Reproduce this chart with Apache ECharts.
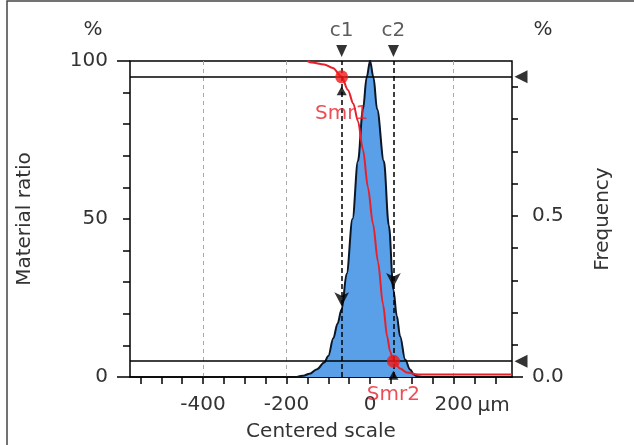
<!DOCTYPE html>
<html>
<head>
<meta charset="utf-8">
<script src="https://cdn.jsdelivr.net/npm/echarts@6/dist/echarts.min.js"></script>
<style>html,body{margin:0;padding:0;background:#fff}#c{width:634px;height:445px}</style>
</head>
<body>
<div id="c"></div>
<script>
// ---- data ----
const xMin = -575, xMax = 340;
const xTickValues = [-550,-500,-450,-400,-350,-300,-250,-200,-150,-100,-50,0,50,100,150,200,250,300];
const xLabelValues = [-400,-200,0,200];
const gridValues = [-400,-200,0,200];
const ratioTickValues = [0,10,20,30,40,50,60,70,80,90,100];
const ratioLabelValues = [0,50,100];
const freqTickValues = [0.1,0.2,0.3,0.4,0.5,0.6,0.7,0.8,0.9];
const freqLabelValues = [0,0.5];
const freqMax = 0.98;

// frequency distribution (centered scale in µm, frequency)
const freqX = [-175,-160,-145,-127,-110,-100,-88,-78,-68,-56,-42,-29,-17,-8,0,8,17,33,45,56,64,72,84,96,105,113,125];
const freqY = [0,0.004,0.010,0.024,0.045,0.065,0.12,0.165,0.21,0.32,0.49,0.67,0.83,0.93,0.98,0.93,0.83,0.67,0.47,0.27,0.19,0.126,0.054,0.023,0.008,0.002,0];

// material ratio curve (µm, %)
const ratioX = [-150,-140,-110,-89,-68,-53,-40,-29,-17,-5,7,19,31,41,48,56,72,88,115,340];
const ratioY = [100,99.5,98.9,97.8,95,90.8,86.5,81,72,60,48.5,36.5,23,12.8,8.1,5,2.7,1.4,0.8,0.8];

const cutNames = ['c1','c2'];
const cutValues = [-68, 56];
const cutFreq = [0.21, 0.27];
const smrNames = ['Smr1','Smr2'];
const smrValues = [95, 5];

// ---- chart ----
const FONT = 'DejaVu Sans';
const TXT = '#333';
const FS = 20;
const RED = '#e8202a';
const chart = echarts.init(document.getElementById('c'), null, {renderer:'canvas'});
const black = {color:'#000', width:1.5};
const txt = {color:TXT, fontSize:FS, fontFamily:FONT};
const helperY = (min, max, pos, ticks, len) => ({
  type:'value', min:min, max:max, position:pos,
  axisLine:{show:false}, axisTick:{show:true, length:len, customValues:ticks, lineStyle:black},
  axisLabel:{show:false}, splitLine:{show:false}
});

const option = {
  animation: false,
  textStyle: {fontFamily: FONT},
  grid: {left:130, right:122, top:61, bottom:68, outerBoundsMode:'none', containLabel:false,
         show:true, borderColor:'#000', borderWidth:1.5, backgroundColor:'transparent'},
  xAxis: [
    {type:'value', min:xMin, max:xMax, position:'bottom',
     axisLine:{show:true, onZero:false, lineStyle:black},
     axisTick:{show:true, length:7, customValues:xTickValues, lineStyle:black},
     axisLabel:Object.assign({customValues:xLabelValues, margin:18}, txt),
     splitLine:{show:false},
     name:'Centered scale', nameLocation:'middle', nameGap:45, nameTextStyle:txt},
    {type:'value', min:xMin, max:xMax, position:'bottom',
     axisLine:{show:false}, axisTick:{show:false, customValues:gridValues}, axisLabel:{show:false},
     splitLine:{show:true, lineStyle:{color:'#aaa', width:1, type:[4,4]}}}
  ],
  yAxis: [
    {type:'value', min:0, max:100, position:'left',
     axisLine:{show:true, lineStyle:black},
     axisTick:{show:false},
     axisLabel:Object.assign({customValues:ratioLabelValues, margin:22}, txt),
     splitLine:{show:false},
     name:'Material ratio', nameLocation:'middle', nameRotate:90, nameGap:95, nameTextStyle:txt},
    {type:'value', min:0, max:freqMax, position:'right',
     axisLine:{show:true, lineStyle:black},
     axisTick:{show:false},
     axisLabel:Object.assign({customValues:freqLabelValues, formatter:v=>v.toFixed(1), margin:20}, txt),
     splitLine:{show:false},
     name:'Frequency', nameLocation:'middle', nameRotate:90, nameGap:81, nameTextStyle:txt},
    helperY(0, 100, 'left', [0,100], 13),
    helperY(0, freqMax*100, 'right', [0], 11),
    helperY(0, 100, 'left', ratioTickValues, 7),
    helperY(0, freqMax*100, 'right', freqTickValues.map(v=>Math.round(v*100)), 6)
  ],
  series: [
    {type:'line', xAxisIndex:0, yAxisIndex:1, z:2,
     data: freqX.map((x,i)=>[x, freqY[i]]),
     smooth:0.35, smoothMonotone:'x', symbol:'none',
     lineStyle:{color:'#0b1626', width:2},
     areaStyle:{color:'#5aa0e8', opacity:1}},
    {type:'line', xAxisIndex:0, yAxisIndex:0, z:4,
     data: ratioX.map((x,i)=>[x, ratioY[i]]),
     smooth:0.3, smoothMonotone:'x', symbol:'none',
     lineStyle:{color:RED, width:2},
     markLine:{silent:true, symbol:['none','none'], label:{show:false}, animation:false,
       data: smrValues.map(v=>({yAxis:v, lineStyle:{type:'solid', color:'#000', width:1.5}}))
         .concat(cutValues.map(v=>({xAxis:v, lineStyle:{type:[5,3], color:'#000', width:1.5}})))}},
    // top triangles + c labels
    {type:'scatter', xAxisIndex:0, yAxisIndex:0, z:6, clip:false, silent:true,
     data: cutValues.map((c,i)=>({value:[c,100], name:cutNames[i]})),
     symbol:'triangle', symbolRotate:180, symbolSize:[11,12], symbolOffset:[0,-10],
     itemStyle:{color:'#000'},
     label:Object.assign({show:true, position:'top', distance:4, formatter:p=>p.name}, txt)},
    // arrows on distribution
    {type:'scatter', xAxisIndex:0, yAxisIndex:1, z:6, clip:false, silent:true,
     data: cutValues.map((c,i)=>[c, cutFreq[i]]),
     symbol:'arrow', symbolRotate:180, symbolSize:[11,14], symbolOffset:[0,-3],
     itemStyle:{color:'#000'}},
    // up triangles under red dots + Smr labels
    {type:'scatter', xAxisIndex:0, yAxisIndex:0, z:6, clip:false, silent:true,
     data: cutValues.map((c,i)=>({value:[c, smrValues[i]], name:smrNames[i],
       label:{distance: i===0 ? 8 : 5}})),
     symbol:'triangle', symbolSize:[10,9], symbolOffset:[0,14],
     itemStyle:{color:'#000'},
     label:Object.assign({show:true, position:'bottom', formatter:p=>p.name}, txt, {color:RED})},
    // red dots
    {type:'scatter', xAxisIndex:0, yAxisIndex:0, z:7, clip:false, silent:true,
     data: cutValues.map((c,i)=>[c, smrValues[i]]),
     symbol:'circle', symbolSize:13, itemStyle:{color:'#f21818'}},
    // right side triangles
    {type:'scatter', xAxisIndex:0, yAxisIndex:0, z:6, clip:false, silent:true,
     data: smrValues.map(v=>[xMax, v]),
     symbol:'triangle', symbolRotate:90, symbolSize:[13,13], symbolOffset:[9,0],
     itemStyle:{color:'#000'}}
  ]
};
chart.setOption(option);

const p200 = chart.convertToPixel({xAxisIndex:0}, xLabelValues[xLabelValues.length-1]);
const font = FS+'px "'+FONT+'"';
chart.setOption({
  graphic: [
    {type:'polyline', shape:{points:[[7,445],[7,1],[634,1]]}, style:{stroke:'#444', lineWidth:1.5, fill:null}, silent:true},
    {type:'text', x:93, y:30, style:{text:'%', fill:TXT, font:font, textAlign:'center', textVerticalAlign:'middle'}},
    {type:'text', x:543, y:30, style:{text:'%', fill:TXT, font:font, textAlign:'center', textVerticalAlign:'middle'}},
    {type:'text', x:p200+24, y:406, style:{text:'μm', fill:TXT, font:font, textAlign:'left', textVerticalAlign:'middle'}}
  ]
});
</script>
</body>
</html>
